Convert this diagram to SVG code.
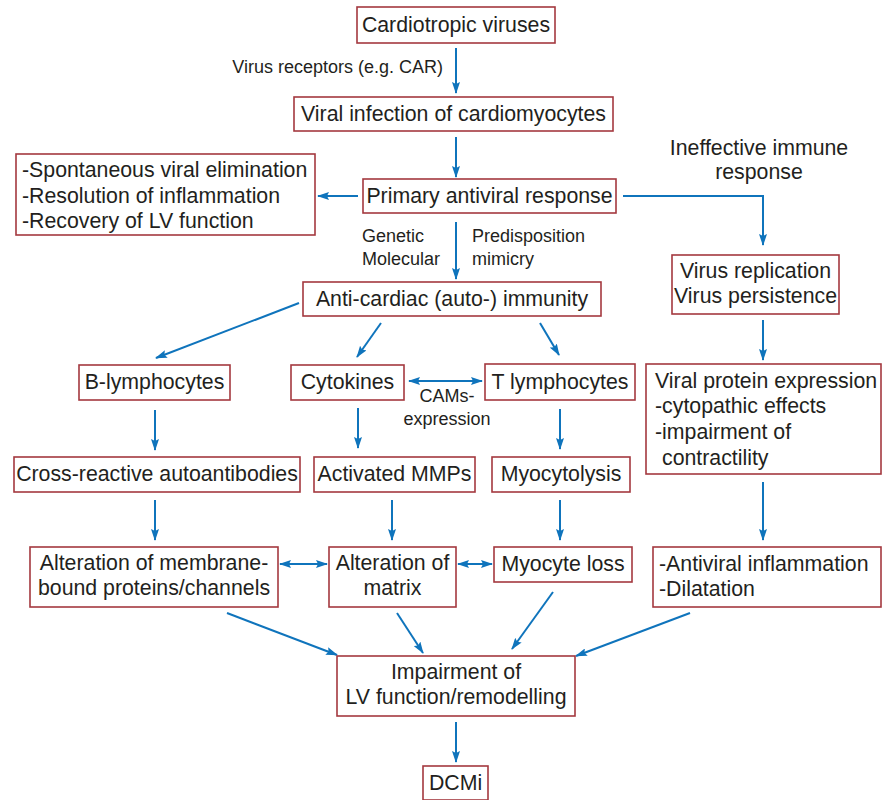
<svg xmlns="http://www.w3.org/2000/svg" width="882" height="800" viewBox="0 0 882 800">
  <style>
    .box { fill: #ffffff; stroke: #a4393f; stroke-width: 1.6; }
    .t { font-family: "Liberation Sans", Arial, sans-serif; font-size: 21.3px; fill: #231f20; }
    .c { text-anchor: middle; }
    .s { font-family: "Liberation Sans", Arial, sans-serif; font-size: 18px; fill: #231f20; }
    .ln { stroke: #0f74bc; stroke-width: 2; fill: none; }
  </style>
  <defs>
    <marker id="ah" viewBox="0 0 12 8" refX="11" refY="4" markerWidth="12" markerHeight="8" orient="auto-start-reverse" markerUnits="userSpaceOnUse">
      <path d="M0,0 L12,4 L0,8 L2,4 Z" fill="#0f74bc"/>
    </marker>
  </defs>
  <rect width="882" height="800" fill="#ffffff"/>

  <g id="connectors">
    <line class="ln" x1="456" y1="48" x2="456" y2="93" marker-end="url(#ah)"/>
    <line class="ln" x1="456" y1="137" x2="456" y2="177" marker-end="url(#ah)"/>
    <line class="ln" x1="358" y1="196" x2="318" y2="196" marker-end="url(#ah)"/>
    <polyline class="ln" points="623,196 763,196 763,245" marker-end="url(#ah)"/>
    <line class="ln" x1="456" y1="222" x2="456" y2="279" marker-end="url(#ah)"/>
    <line class="ln" x1="299" y1="303" x2="156" y2="358" marker-end="url(#ah)"/>
    <line class="ln" x1="381" y1="323" x2="357" y2="357" marker-end="url(#ah)"/>
    <line class="ln" x1="540" y1="323" x2="559" y2="355" marker-end="url(#ah)"/>
    <line class="ln" x1="763" y1="320" x2="763" y2="360" marker-end="url(#ah)"/>
    <line class="ln" x1="409" y1="381" x2="482" y2="381" marker-start="url(#ah)" marker-end="url(#ah)"/>
    <line class="ln" x1="155" y1="410" x2="155" y2="450" marker-end="url(#ah)"/>
    <line class="ln" x1="358" y1="408" x2="358" y2="448" marker-end="url(#ah)"/>
    <line class="ln" x1="560" y1="409" x2="560" y2="449" marker-end="url(#ah)"/>
    <line class="ln" x1="763" y1="482" x2="763" y2="540" marker-end="url(#ah)"/>
    <line class="ln" x1="155" y1="500" x2="155" y2="540" marker-end="url(#ah)"/>
    <line class="ln" x1="392" y1="500" x2="392" y2="540" marker-end="url(#ah)"/>
    <line class="ln" x1="560" y1="500" x2="560" y2="540" marker-end="url(#ah)"/>
    <line class="ln" x1="280" y1="564" x2="327" y2="564" marker-start="url(#ah)" marker-end="url(#ah)"/>
    <line class="ln" x1="458" y1="564" x2="492" y2="564" marker-start="url(#ah)" marker-end="url(#ah)"/>
    <line class="ln" x1="227" y1="613" x2="337" y2="655" marker-end="url(#ah)"/>
    <line class="ln" x1="397" y1="613" x2="423" y2="653" marker-end="url(#ah)"/>
    <line class="ln" x1="553" y1="592" x2="512" y2="649" marker-end="url(#ah)"/>
    <line class="ln" x1="690" y1="613" x2="576" y2="656" marker-end="url(#ah)"/>
    <line class="ln" x1="456" y1="722" x2="456" y2="762" marker-end="url(#ah)"/>
  </g>

  <g id="labels">
    <text class="s" x="443" y="73" text-anchor="end">Virus receptors (e.g. CAR)</text>
    <text class="t c" x="759" y="155">Ineffective immune</text>
    <text class="t c" x="759" y="179">response</text>
    <text class="s" x="362" y="242">Genetic</text>
    <text class="s" x="362" y="265">Molecular</text>
    <text class="s" x="472" y="242">Predisposition</text>
    <text class="s" x="472" y="265">mimicry</text>
    <text class="s c" x="447" y="402">CAMs-</text>
    <text class="s c" x="447" y="425">expression</text>
  </g>

  <g id="n-cardiotropic">
    <rect class="box" x="357" y="7" width="198" height="36"/>
    <text class="t c" x="456" y="32">Cardiotropic viruses</text>
  </g>
  <g id="n-infection">
    <rect class="box" x="294" y="97" width="319" height="34"/>
    <text class="t c" x="453.5" y="121">Viral infection of cardiomyocytes</text>
  </g>
  <g id="n-elimination">
    <rect class="box" x="16" y="154" width="299" height="81"/>
    <text class="t" x="22" y="177">-Spontaneous viral elimination</text>
    <text class="t" x="22" y="203">-Resolution of inflammation</text>
    <text class="t" x="22" y="228">-Recovery of LV function</text>
  </g>
  <g id="n-primary">
    <rect class="box" x="363" y="179" width="253" height="34"/>
    <text class="t c" x="489.5" y="203">Primary antiviral response</text>
  </g>
  <g id="n-anticardiac">
    <rect class="box" x="303" y="282" width="298" height="34"/>
    <text class="t c" x="452" y="306">Anti-cardiac (auto-) immunity</text>
  </g>
  <g id="n-replication">
    <rect class="box" x="672" y="255" width="167" height="59"/>
    <text class="t c" x="755.5" y="278">Virus replication</text>
    <text class="t c" x="755.5" y="303">Virus persistence</text>
  </g>
  <g id="n-blymph">
    <rect class="box" x="79" y="365" width="151" height="35"/>
    <text class="t c" x="154.5" y="389">B-lymphocytes</text>
  </g>
  <g id="n-cytokines">
    <rect class="box" x="291" y="365" width="113" height="35"/>
    <text class="t c" x="347.5" y="389">Cytokines</text>
  </g>
  <g id="n-tlymph">
    <rect class="box" x="485" y="364" width="150" height="36"/>
    <text class="t c" x="560" y="389">T lymphocytes</text>
  </g>
  <g id="n-viralprotein">
    <rect class="box" x="646" y="364" width="235" height="110"/>
    <text class="t" x="655" y="388">Viral protein expression</text>
    <text class="t" x="655" y="413">-cytopathic effects</text>
    <text class="t" x="655" y="439">-impairment of</text>
    <text class="t" x="662" y="465">contractility</text>
  </g>
  <g id="n-autoantibodies">
    <rect class="box" x="14" y="457" width="286" height="35"/>
    <text class="t c" x="157" y="481">Cross-reactive autoantibodies</text>
  </g>
  <g id="n-mmps">
    <rect class="box" x="314" y="457" width="161" height="35"/>
    <text class="t c" x="394.5" y="481">Activated MMPs</text>
  </g>
  <g id="n-myocytolysis">
    <rect class="box" x="492" y="457" width="138" height="35"/>
    <text class="t c" x="561" y="481">Myocytolysis</text>
  </g>
  <g id="n-membrane">
    <rect class="box" x="30" y="547" width="248" height="60"/>
    <text class="t c" x="154" y="570">Alteration of membrane-</text>
    <text class="t c" x="154" y="595">bound proteins/channels</text>
  </g>
  <g id="n-matrix">
    <rect class="box" x="329" y="547" width="127" height="60"/>
    <text class="t c" x="392.5" y="570">Alteration of</text>
    <text class="t c" x="392.5" y="595">matrix</text>
  </g>
  <g id="n-myocyteloss">
    <rect class="box" x="494" y="547" width="138" height="35"/>
    <text class="t c" x="563" y="571">Myocyte loss</text>
  </g>
  <g id="n-inflammation">
    <rect class="box" x="653" y="547" width="228" height="60"/>
    <text class="t" x="659" y="571">-Antiviral inflammation</text>
    <text class="t" x="659" y="596">-Dilatation</text>
  </g>
  <g id="n-impairment">
    <rect class="box" x="337" y="656" width="238" height="60"/>
    <text class="t c" x="456" y="679">Impairment of</text>
    <text class="t c" x="456" y="704">LV function/remodelling</text>
  </g>
  <g id="n-dcmi">
    <rect class="box" x="423" y="766" width="65" height="34"/>
    <text class="t c" x="455.5" y="790">DCMi</text>
  </g>
</svg>
